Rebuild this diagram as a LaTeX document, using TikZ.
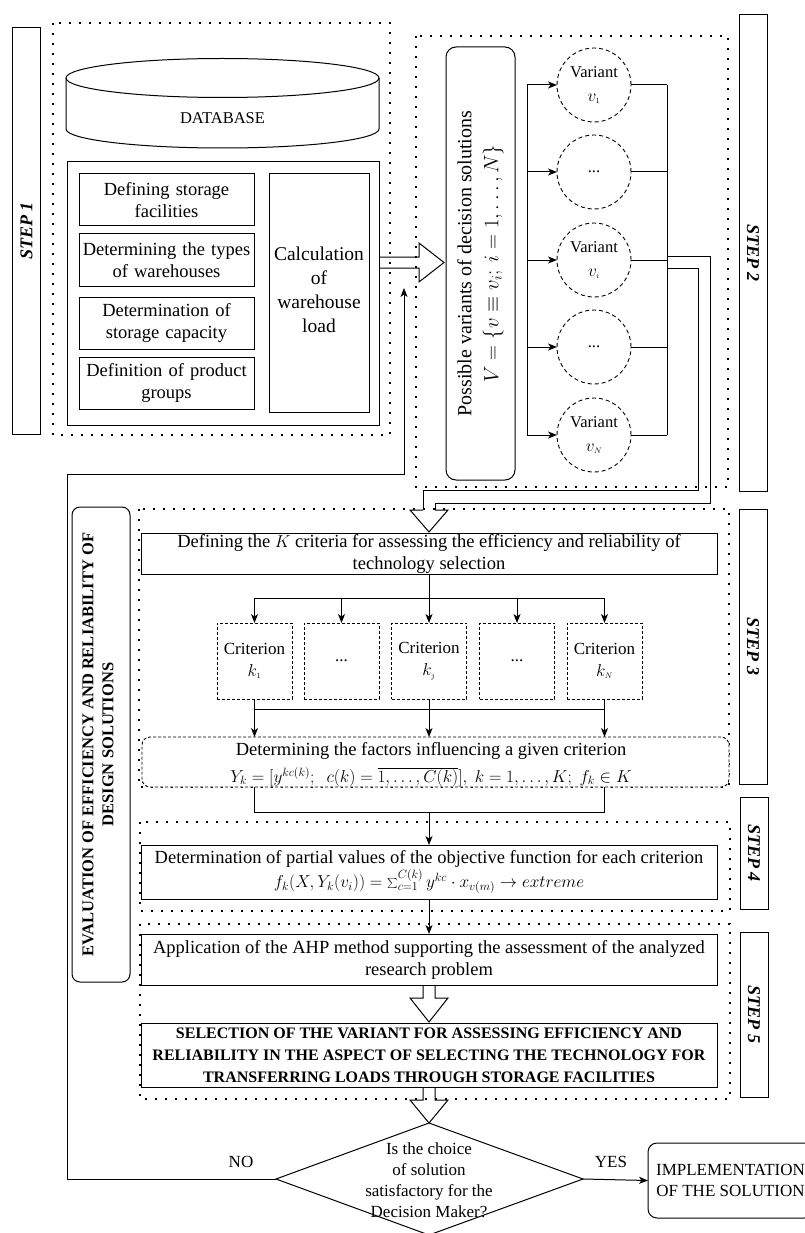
\documentclass[tikz,border=0pt]{standalone}
\usepackage{fontspec}
\setmainfont{Liberation Serif}
\usetikzlibrary{arrows.meta,calc}
\newcommand\myfs[2]{\fontsize{#1}{#2}\selectfont}
\begin{document}
\begin{tikzpicture}[x=1pt,y=-1pt,
  every node/.style={inner sep=0pt,outer sep=0pt,align=center},
  ln/.style={line width=1pt},
  box/.style={draw,line width=1pt,rectangle},
  dotbox/.style={draw,line width=1.8pt,dash pattern=on 1.8pt off 8.2pt},
  dashbox/.style={draw,line width=0.9pt,dash pattern=on 3pt off 2pt},
  dashcirc/.style={draw,circle,line width=0.9pt,dash pattern=on 4pt off 3pt,minimum size=74pt},
  arr/.style={line width=1pt,-{Stealth[length=9pt,width=7pt,inset=2.5pt]}},
  hollow/.style={line width=1pt,line join=miter},
  steplbl/.style={font=\myfs{18}{22}\bfseries\itshape},
  body/.style={font=\myfs{18.5}{22}},
]
\useasboundingbox (0,0) rectangle (805,1233);

% ---------------- STEP 1 ----------------
\node[box,minimum width=28pt,minimum height=406pt] (s1) at (26.5,231) {};
\node[steplbl,rotate=90] (s1t) at (s1.center) {STEP 1};
\draw[dotbox] (53,23) rectangle (390,435);

\draw[ln] (66,78) -- (66,129) arc[start angle=180,end angle=360,x radius=156.5pt,y radius=19pt] -- (379,78);
\draw[ln] (222.5,78) ellipse[x radius=156.5pt,y radius=19.5pt];
\node[font=\myfs{16.5}{20}] (db) at (222.5,118) {DATABASE};

\node[box,minimum width=312pt,minimum height=263pt] (inner) at (223,293.5) {};
\node[box,body,minimum width=175pt,minimum height=52pt,text width=172pt] (b1) at (166.5,200) {Defining storage\\facilities};
\node[box,body,minimum width=175pt,minimum height=52pt,text width=172pt] (b2) at (166.5,260) {Determining the types\\of warehouses};
\node[box,body,minimum width=175pt,minimum height=52pt,text width=172pt] (b3) at (166.5,323) {Determination of\\storage capacity};
\node[box,body,minimum width=175pt,minimum height=52pt,text width=172pt] (b4) at (166.5,383) {Definition of product\\groups};
\node[box,minimum width=100pt,minimum height=238pt] (calc) at (319,293) {};
\node[font=\myfs{19.5}{24},anchor=north] (calct) at (319,247) {Calculation\\of\\warehouse\\load};

% block arrow step1 -> step2
\draw[hollow] (inner.east |- 0,257) -- (419,257) -- (419,243) -- (444,262.5) -- (419,282) -- (419,268) -- (inner.east |- 0,268);

% ---------------- STEP 2 ----------------
\draw[dotbox] (416,36) rectangle (728,487);
\node[box,minimum width=28pt,minimum height=476pt] (s2) at (753,253) {};
\node[steplbl,rotate=-90] (s2t) at (s2.center) {STEP 2};

\node[box,rounded corners=10pt,minimum width=69pt,minimum height=433pt] (pv) at (480.5,263.5) {};
\node[rotate=90,font=\myfs{20}{27}] (pvt) at (pv.center) {Possible variants of decision solutions\\$V=\{v\equiv v_i;\ i=1,\dots,N\}$};

\node[dashcirc,font=\myfs{16.5}{24}] (v1) at (594,85) {Variant\\$v_{\scriptscriptstyle 1}$};
\node[dashcirc,font=\myfs{16.5}{24}] (v2) at (594,172) {...};
\node[dashcirc,font=\myfs{16.5}{24}] (v3) at (594,260) {Variant\\$v_{\scriptscriptstyle i}$};
\node[dashcirc,font=\myfs{16.5}{24}] (v4) at (594,347) {...};
\node[dashcirc,font=\myfs{16.5}{24}] (v5) at (594,435) {Variant\\$v_{\scriptscriptstyle N}$};

\coordinate (lb1) at (527,85);
\coordinate (lb5) at (527,435);
\coordinate (rb1) at (667,85);
\coordinate (rb5) at (667,435);
\draw[ln] (lb1) -- (lb5);
\draw[ln] (rb1) -- (rb5);
\foreach \n in {v1,v2,v3,v4,v5}{
  \draw[arr] (lb1 |- \n.center) -- (\n.west);
  \draw[ln] (\n.east) -- (rb1 |- \n.center);
}

% hollow connector from variants to step 3
\draw[hollow] (rb1 |- 0,256) -- (710,256) -- (710,503) -- (435,503) -- (435,510);
\draw[hollow] (rb1 |- 0,268) -- (698,268) -- (698,490) -- (423,490) -- (423,510);
\draw[hollow] (423,510) -- (410,510) -- (429,532) -- (448,510) -- (435,510);

% ---------------- EVALUATION ----------------
\node[box,rounded corners=8pt,minimum width=58pt,minimum height=475pt] (ev) at (101,744.5) {};
\node[rotate=90,font=\myfs{16.5}{20}\bfseries] (evt) at (98,744.5) {EVALUATION OF EFFICIENCY AND RELIABILITY OF\\DESIGN SOLUTIONS};

% ---------------- STEP 3 ----------------
\draw[dotbox] (139,509) rectangle (729,787);
\node[box,minimum width=28pt,minimum height=275pt] (s3) at (753,646.5) {};
\node[steplbl,rotate=-90] (s3t) at (s3.center) {STEP 3};

\node[box,fill=white,body,minimum width=576pt,minimum height=41pt] (defk) at (429,553.5) {Defining the $K$ criteria for assessing the efficiency and reliability of\\technology selection};

\node[dashbox,font=\myfs{17}{22},minimum width=75pt,minimum height=76pt] (c1) at (254.5,661) {Criterion\\$k_{\scriptscriptstyle 1}$};
\node[dashbox,font=\myfs{17}{22},minimum width=75pt,minimum height=76pt] (c2) at (341.5,661) {...};
\node[dashbox,font=\myfs{17}{22},minimum width=75pt,minimum height=76pt] (c3) at (429,661) {Criterion\\$k_{\scriptscriptstyle j}$};
\node[dashbox,font=\myfs{17}{22},minimum width=75pt,minimum height=76pt] (c4) at (517,661) {...};
\node[dashbox,font=\myfs{17}{22},minimum width=75pt,minimum height=76pt] (c5) at (604.5,661) {Criterion\\$k_{\scriptscriptstyle N}$};

\coordinate (tb) at (429,598);
\draw[ln] (defk.south) -- (tb);
\draw[ln] (c1.north |- tb) -- (c5.north |- tb);
\foreach \n in {c1,c2,c3,c4,c5}{\draw[arr] (\n.north |- tb) -- (\n.north);}

\node[draw,fill=white,line width=0.9pt,dash pattern=on 3pt off 2pt,rounded corners=8pt,minimum width=587pt,minimum height=50pt] (fac) at (435.5,762) {};
\node[font=\myfs{18.5}{27}] (fact) at (431,764.5) {Determining the factors influencing a given criterion\\$Y_k=[y^{kc(k)};\ \ c(k)=\overline{1,\dots,C(k)}],\ k=1,\dots,K;\ f_k\in K$};

\coordinate (mb) at (429,709);
\foreach \n in {c1,c3,c5}{\draw[ln] (\n.south) -- (\n.south |- mb);}
\draw[ln] (c1.south |- mb) -- (c5.south |- mb);
\foreach \n in {c1,c3,c5}{\draw[arr] (\n.south |- mb) -- (\n.south |- fac.north);}

% ---------------- STEP 4 ----------------
\draw[dotbox] (140,822) rectangle (730,911);
\node[box,minimum width=28pt,minimum height=112pt] (s4) at (754,853) {};
\node[steplbl,rotate=-90] (s4t) at (s4.center) {STEP 4};

\node[box,fill=white,font=\myfs{18.5}{24},minimum width=576pt,minimum height=54pt] (det) at (429,872) {Determination of partial values of the objective function for each criterion\\$f_k\big(X,Y_k(v_i)\big)=\sum\nolimits_{c=1}^{C(k)}y^{kc}\cdot x_{v(m)}\to extreme$};

\coordinate (bb) at (429,812);
\draw[ln] (c1.south |- fac.south) -- (c1.south |- bb) -- (c5.south |- bb) -- (c5.south |- fac.south);
\draw[arr] (bb) -- (det.north);

% ---------------- STEP 5 ----------------
\draw[dotbox] (140,924) rectangle (730,1099);
\node[box,minimum width=28pt,minimum height=165pt] (s5) at (754,1014.5) {};
\node[steplbl,rotate=-90] (s5t) at (s5.center) {STEP 5};

\node[box,fill=white,body,minimum width=576pt,minimum height=51pt] (app) at (429,959.5) {Application of the AHP method supporting the assessment of the analyzed\\research problem};
\draw[arr] (det.south) -- (app.north);

\node[box,fill=white,font=\myfs{16}{22}\bfseries,minimum width=576pt,minimum height=64pt] (sel) at (429,1055) {SELECTION OF THE VARIANT FOR ASSESSING EFFICIENCY AND\\RELIABILITY IN THE ASPECT OF SELECTING THE TECHNOLOGY FOR\\TRANSFERRING LOADS THROUGH STORAGE FACILITIES};

\draw[hollow] (423,985) -- (423,998) -- (410,998) -- (429,1022) -- (448,998) -- (435,998) -- (435,985);
\draw[hollow] (423,1087) -- (423,1100) -- (410,1100) -- (429,1123) -- (448,1100) -- (435,1100) -- (435,1087);

% ---------------- DECISION ----------------
\coordinate (dtop) at (429,1123);
\coordinate (dleft) at (276,1179);
\coordinate (dright) at (583,1179);
\coordinate (dbot) at (429,1235);
\draw[ln,fill=white] (dtop) -- (dright) -- (dbot) -- (dleft) -- cycle;
\node[font=\myfs{17}{21}] (dec) at (429,1180.5) {Is the choice\\of solution\\satisfactory for the\\Decision Maker?};

\node[box,rounded corners=9pt,font=\myfs{17}{21},minimum width=165pt,minimum height=75pt] (impl) at (730.5,1180.5) {IMPLEMENTATION\\OF THE SOLUTION};
\draw[arr] (dright) -- (impl.west);
\node[font=\myfs{17}{21}] (yes) at (611,1162) {YES};
\node[font=\myfs{17}{21}] (no) at (241,1162) {NO};

\coordinate (f1) at (67,1179);
\coordinate (f2) at (67,474);
\coordinate (f3) at (404,474);
\coordinate (f4) at (404,288);
\draw[arr] (dleft) -- (f1) -- (f2) -- (f3) -- (f4);
\end{tikzpicture}
\end{document}
